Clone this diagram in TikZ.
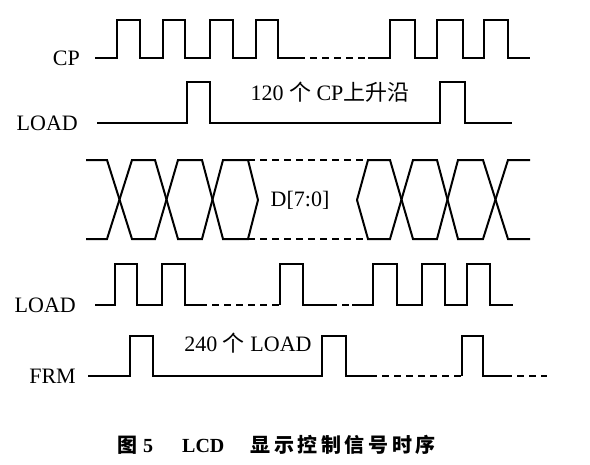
\documentclass[tikz,border=0pt]{standalone}
\usepackage{fontspec}
\setmainfont{Liberation Serif}
\newfontfamily\cjk{Noto Sans CJK SC}
\newfontfamily\cjkcap[LetterSpace=18]{Noto Sans CJK SC}
\tikzset{
  wave/.style={line width=2pt,line join=miter},
  gap/.style={wave,dash pattern=on 7pt off 5pt},
  sig/.style={anchor=east,inner sep=0pt,font=\fontsize{22}{24}\selectfont},
  note/.style={inner sep=0pt,font=\fontsize{22}{24}\selectfont}
}
\begin{document}
\begin{tikzpicture}[x=1pt,y=-1pt]
\useasboundingbox (0,0) rectangle (590,464);
% signal names
\node (cp) [sig] at (80,58) {CP};
\node (ld) [sig] at (78,123) {LOAD};
\node (ldb) [sig] at (76,305) {LOAD};
\node (frm) [sig] at (76,376) {FRM};
% CP
\draw[wave] (95,58) -- (117,58) -- (117,20) -- (140,20) -- (140,58) -- (163,58) -- (163,20) -- (185,20) -- (185,58)
  -- (210,58) -- (210,20) -- (233,20) -- (233,58) -- (256,58) -- (256,20) -- (278,20) -- (278,58) -- (298,58);
\draw[gap] (298,58) -- (368,58);
\draw[wave] (368,58) -- (390,58) -- (390,20) -- (415,20) -- (415,58) -- (437,58) -- (437,20) -- (463,20) -- (463,58)
  -- (484,58) -- (484,20) -- (508,20) -- (508,58) -- (530,58);
% LOAD
\draw[wave] (97,123) -- (187,123) -- (187,82) -- (210,82) -- (210,123) -- (440,123) -- (440,82) -- (465,82) -- (465,123) -- (512,123);
\node (cnt) [note] at (330,92) {120 {\cjk 个} CP{\cjk 上升沿}};
% D[7:0]
\draw[wave] (86,160) -- (107,160) -- (132,239) -- (155,239) -- (178,160) -- (202,160) -- (223,239) -- (248,239) -- (258,200);
\draw[wave] (86,239) -- (107,239) -- (132,160) -- (155,160) -- (178,239) -- (202,239) -- (223,160) -- (248,160) -- (258,200);
\draw[gap] (248,160) -- (368,160);
\draw[gap] (248,239) -- (368,239);
\draw[wave] (357,200) -- (368,160) -- (390,160) -- (413,239) -- (437,239) -- (458,160) -- (483,160) -- (508,239) -- (530,239);
\draw[wave] (357,200) -- (368,239) -- (390,239) -- (413,160) -- (437,160) -- (458,239) -- (483,239) -- (508,160) -- (530,160);
\node (dat) [note] at (300,200) {D[7:0]};
% LOAD, line by line
\draw[wave] (95,305) -- (115,305) -- (115,264) -- (137,264) -- (137,305) -- (162,305) -- (162,264) -- (185,264) -- (185,305) -- (200,305);
\draw[gap] (200,305) -- (280,305);
\draw[wave] (280,305) -- (280,264) -- (303,264) -- (303,305) -- (330,305);
\draw[gap] (330,305) -- (352,305);
\draw[wave] (352,305) -- (373,305) -- (373,264) -- (397,264) -- (397,305) -- (422,305) -- (422,264) -- (445,264) -- (445,305)
  -- (467,305) -- (467,264) -- (490,264) -- (490,305) -- (513,305);
% FRM
\draw[wave] (88,376) -- (130,376) -- (130,336) -- (153,336) -- (153,376) -- (322,376) -- (322,336) -- (346,336) -- (346,376) -- (370,376);
\draw[gap] (370,376) -- (462,376);
\draw[wave] (462,376) -- (462,336) -- (483,336) -- (483,376) -- (505,376);
\draw[gap] (505,376) -- (547,376);
\node (lines) [note] at (248,343) {240 {\cjk 个} LOAD};
% caption
\node (cap) [anchor=west,inner sep=0pt,font=\fontsize{20}{22}\selectfont\bfseries] at (117,445)
  {{\cjk 图}\hspace{6pt}5\hspace{29pt}LCD\hspace{26pt}{\cjkcap 显示控制信号时序}};
\end{tikzpicture}
\end{document}
